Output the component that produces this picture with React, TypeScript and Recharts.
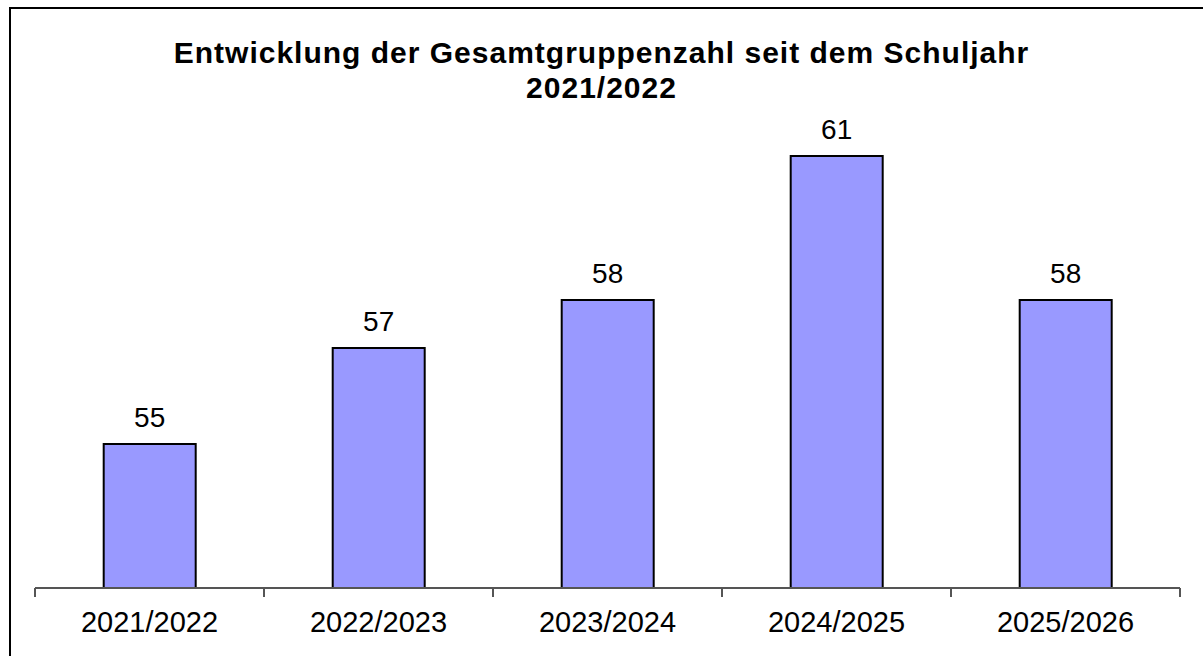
import React from 'react';
import { BarChart, Bar, XAxis, YAxis, LabelList } from 'recharts';

// Schuljahre und Gruppenzahlen
const schuljahre = ['2021/2022', '2022/2023', '2023/2024', '2024/2025', '2025/2026'];
const gruppen = [55, 57, 58, 61, 58];
const yDomain = [52, 62];

const WIDTH = 1203;
const HEIGHT = 656;
const X_AXIS_HEIGHT = 30;
// plot area: x 35..1180, y 108..588
const margin = { top: 108, right: 23, bottom: 68 - X_AXIS_HEIGHT, left: 35 };
const FONT = '"Liberation Sans", Arial, sans-serif';

const data = schuljahre.map((jahr, i) => ({ jahr, gruppen: gruppen[i] }));

const halfBand = (WIDTH - margin.left - margin.right) / schuljahre.length / 2;

// Tick: label centred, tick marks on the category boundaries
const CategoryTick = (props: any) => {
  const { x, y, payload, index } = props;
  return (
    <g>
      {index === 0 && (
        <line x1={x - halfBand} y1={y} x2={x - halfBand} y2={y + 9} stroke="#555" strokeWidth={2} />
      )}
      <line x1={x + halfBand} y1={y} x2={x + halfBand} y2={y + 9} stroke="#555" strokeWidth={2} />
      <text x={x} y={y + 44} textAnchor="middle" fontSize={29} fontFamily={FONT} fill="#000">
        {payload.value}
      </text>
    </g>
  );
};

export default function App() {
  return (
    <div style={{ position: 'absolute', left: 0, top: 0, width: WIDTH, height: HEIGHT, background: '#fff', overflow: 'hidden' }}>
      <div
        style={{
          position: 'absolute',
          left: 9,
          top: 7,
          right: 0,
          bottom: 0,
          borderLeft: '2px solid #000',
          borderTop: '2px solid #000'
        }}
      />
      <div
        style={{
          position: 'absolute',
          left: 0,
          top: 35,
          width: WIDTH,
          textAlign: 'center',
          fontFamily: FONT,
          fontWeight: 'bold',
          fontSize: 30,
          letterSpacing: 1,
          lineHeight: '35px',
          color: '#000'
        }}
      >
        Entwicklung der Gesamtgruppenzahl seit dem Schuljahr
        <br />
        2021/2022
      </div>
      <div style={{ position: 'absolute', left: 0, top: 0 }}>
        <BarChart width={WIDTH} height={HEIGHT} data={data} margin={margin} barCategoryGap="30%">
          <XAxis
            dataKey="jahr"
            height={X_AXIS_HEIGHT}
            axisLine={{ stroke: '#555', strokeWidth: 2 }}
            tickLine={false}
            tickSize={0}
            tickMargin={0}
            tick={<CategoryTick />}
            interval={0}
          />
          <YAxis hide domain={yDomain} allowDataOverflow />
          <Bar dataKey="gruppen" fill="#9999FF" stroke="#000" strokeWidth={2} isAnimationActive={false}>
            <LabelList dataKey="gruppen" position="top" offset={17} fontSize={28} fontFamily={FONT} fill="#000" />
          </Bar>
        </BarChart>
      </div>
    </div>
  );
}
